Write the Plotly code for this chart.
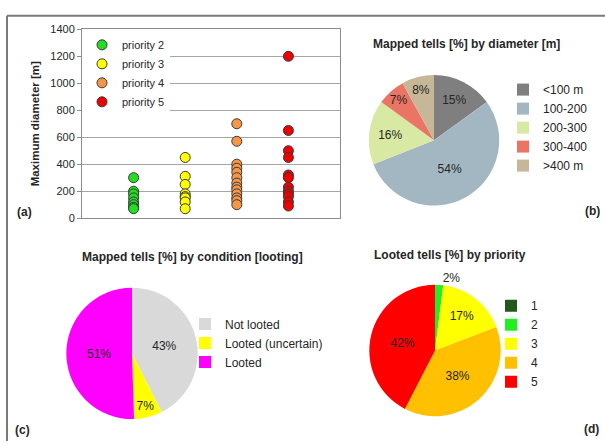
import plotly.graph_objects as go

# --- (a) maximum tell diameter by priority class ---
priority_names = ["priority 2", "priority 3", "priority 4", "priority 5"]
priority_x = [2, 3, 4, 5]
priority_colors = ["#22dd22", "#ffff00", "#f79646", "#ee0000"]
diam_p2 = [300, 200, 180, 150, 120, 100, 80, 70]
diam_p3 = [450, 310, 250, 180, 160, 150, 120, 70]
diam_p4 = [700, 570, 400, 370, 340, 300, 260, 230, 210, 180, 150, 130, 100]
diam_p5 = [1200, 650, 500, 450, 320, 300, 230, 200, 180, 160, 120, 90]
diam_series = [diam_p2, diam_p3, diam_p4, diam_p5]
y_ticks = [0, 200, 400, 600, 800, 1000, 1200, 1400]

# --- (b) mapped tells by diameter ---
diam_labels = ["<100 m", "100-200", "200-300", "300-400", ">400 m"]
diam_pct = [15, 54, 16, 7, 8]
diam_colors = ["#7f7f7f", "#a3b7c3", "#d7e9a2", "#ea7565", "#c5b797"]

# --- (c) mapped tells by looting condition ---
cond_labels = ["Not looted", "Looted (uncertain)", "Looted"]
cond_pct = [43, 7, 51]
cond_colors = ["#d9d9d9", "#ffff00", "#ff00ff"]

# --- (d) looted tells by priority ---
loot_labels = ["1", "2", "3", "4", "5"]
loot_pct = [0, 2, 17, 38, 42]
loot_colors = ["#1f5a1a", "#22ee22", "#ffff00", "#ffc000", "#ff0000"]

W, H = 605, 447
FONT = "Liberation Sans, Arial, sans-serif"
TXT = "#262626"


def px_x(v):
    return v / W


def px_y(v):
    return 1 - v / H


fig = go.Figure()

for name, xv, col, vals in zip(priority_names, priority_x, priority_colors, diam_series):
    fig.add_trace(go.Scatter(
        x=[xv] * len(vals), y=vals, mode="markers", name=name,
        marker=dict(size=10, color=col, line=dict(color="#3a3a3a", width=1)),
        legend="legend",
    ))

pie_common = dict(sort=False, direction="clockwise", rotation=0,
                  texttemplate="%{value}%", insidetextorientation="horizontal",
                  textfont=dict(family=FONT, size=12, color=TXT),
                  hoverinfo="label+value")

fig.add_trace(go.Pie(
    labels=diam_labels, values=diam_pct, marker=dict(colors=diam_colors, line=dict(width=0)),
    domain=dict(x=[px_x(367), px_x(501)], y=[px_y(205), px_y(71)]),
    textposition="inside", legend="legend2", **pie_common))

fig.add_trace(go.Pie(
    labels=cond_labels, values=cond_pct, marker=dict(colors=cond_colors, line=dict(width=0)),
    domain=dict(x=[px_x(64.5), px_x(199.5)], y=[px_y(424.5), px_y(289.5)]),
    textposition="inside", legend="legend3", **pie_common))

fig.add_trace(go.Pie(
    labels=loot_labels, values=loot_pct, marker=dict(colors=loot_colors, line=dict(width=0)),
    domain=dict(x=[px_x(367.5), px_x(502.5)], y=[px_y(421.5), px_y(286.5)]),
    textposition=["inside", "outside", "inside", "inside", "inside"],
    legend="legend4", **pie_common))

legend_font = dict(family=FONT, size=12, color=TXT)

fig.update_layout(
    width=W, height=H,
    margin=dict(l=0, r=0, t=0, b=0),
    paper_bgcolor="white", plot_bgcolor="white",
    font=dict(family=FONT, size=11, color=TXT),
    showlegend=True,
    xaxis=dict(domain=[px_x(82), px_x(340)], range=[1, 6], showticklabels=False,
               showgrid=False, zeroline=False, showline=True, linecolor="#8c8c8c",
               linewidth=1, mirror=True, ticks=""),
    yaxis=dict(domain=[px_y(218), px_y(24)], range=[0, 1400], tickvals=y_ticks,
               showgrid=True, gridcolor="#a6a6a6", gridwidth=1, zeroline=False,
               showline=True, linecolor="#8c8c8c", linewidth=1, mirror=True,
               ticks="outside", ticklen=4, tickcolor="#8c8c8c",
               tickfont=dict(family=FONT, size=11, color=TXT),
               title=dict(text="<b>Maximum diameter [m]</b>", font=dict(family=FONT, size=11.5, color=TXT),
                          standoff=8)),
    legend=dict(x=px_x(82), y=px_y(25), xanchor="left", yanchor="top",
                bgcolor="white", font=dict(family=FONT, size=11, color=TXT),
                borderwidth=0, tracegroupgap=0),
    legend2=dict(x=px_x(503), y=px_y(71), xanchor="left", yanchor="top",
                 bgcolor="rgba(0,0,0,0)", font=legend_font),
    legend3=dict(x=px_x(185), y=px_y(312), xanchor="left", yanchor="top",
                 bgcolor="rgba(0,0,0,0)", font=legend_font),
    legend4=dict(x=px_x(491), y=px_y(293), xanchor="left", yanchor="top",
                 bgcolor="rgba(0,0,0,0)", font=legend_font),
)

# outer frame (top and left edges)
frame = dict(type="line", xref="paper", yref="paper", line=dict(color="#7a7a7a", width=2))
fig.add_shape(x0=px_x(7), x1=1, y0=px_y(10), y1=px_y(10), **frame)
fig.add_shape(x0=px_x(7), x1=px_x(7), y0=px_y(10), y1=0, **frame)

titles = [
    ("Mapped tells [%] by diameter [m]", 466, 39),
    ("Mapped tells [%] by condition [looting]", 192, 258),
    ("Looted tells [%] by priority", 450, 256),
]
for text, cx, cy in titles:
    fig.add_annotation(text=f"<b>{text}</b>", x=px_x(cx), y=px_y(cy), xref="paper", yref="paper",
                       showarrow=False, xanchor="center", yanchor="middle",
                       font=dict(family=FONT, size=12, color=TXT))

panel_tags = [("(a)", 24, 212), ("(b)", 592, 211), ("(c)", 22, 436), ("(d)", 591, 435)]
for text, cx, cy in panel_tags:
    fig.add_annotation(text=f"<b>{text}</b>", x=px_x(cx), y=px_y(cy), xref="paper", yref="paper",
                       showarrow=False, xanchor="center", yanchor="middle",
                       font=dict(family=FONT, size=12, color=TXT))

fig.write_html("out.html")
